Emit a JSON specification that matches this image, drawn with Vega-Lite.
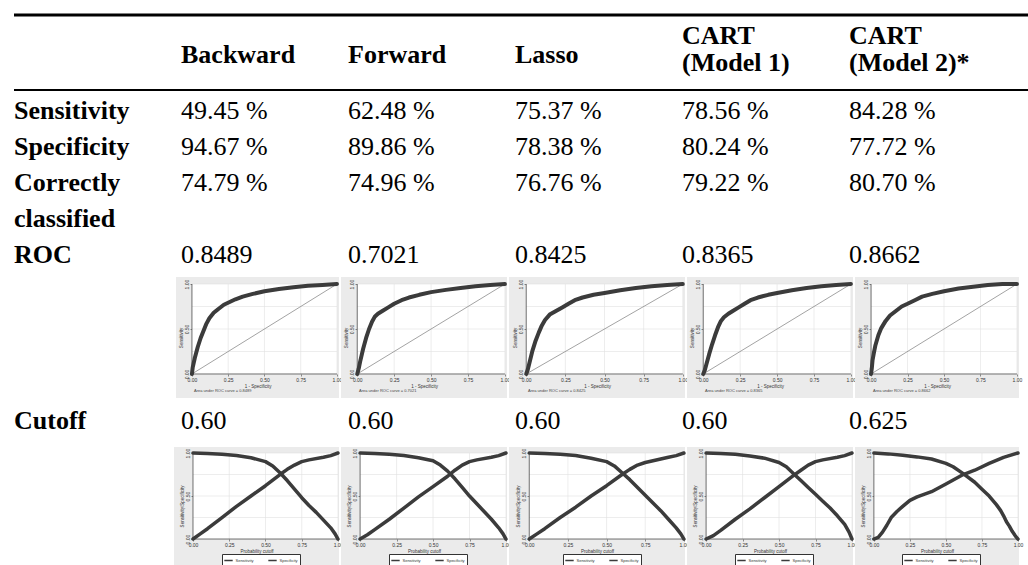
{
"$schema": "https://vega.github.io/schema/vega-lite/v6.json",
"padding": {"left": 12, "top": 0, "right": 0, "bottom": 0},
"background": "white",
"spacing": 0,
"config": {
  "view": {"stroke": null},
  "axis": {"domain": false, "grid": false, "ticks": true, "tickSize": 2, "tickColor": "#444", "tickWidth": 0.6, "labelFontSize": 5, "labelFont": "Liberation Sans", "labelColor": "#333", "labelPadding": 1, "labelFlush": false, "labelOverlap": false, "titleFontSize": 4.5, "titleFont": "Liberation Sans", "titleFontWeight": "normal", "titleColor": "#333", "titlePadding": 1},
  "axisLeft": {"labelAngle": -90}
},
"datasets": {
  "headers1": [
    {"model": "Backward", "header": "Backward"},
    {"model": "Forward", "header": "Forward"},
    {"model": "Lasso", "header": "Lasso"}
  ],
  "headers2": [
    {"model": "CART (Model 1)", "header": "CART\n(Model 1)"},
    {"model": "CART (Model 2)", "header": "CART\n(Model 2)*"}
  ],
  "measures": [
    {"measure": "Sensitivity"}, {"measure": "Specificity"}, {"measure": "Correctly classified"}, {"measure": "ROC"}
  ],
  "table": [
    {"measure": "Sensitivity", "model": "Backward", "value": "49.45 %"},
    {"measure": "Sensitivity", "model": "Forward", "value": "62.48 %"},
    {"measure": "Sensitivity", "model": "Lasso", "value": "75.37 %"},
    {"measure": "Sensitivity", "model": "CART (Model 1)", "value": "78.56 %"},
    {"measure": "Sensitivity", "model": "CART (Model 2)", "value": "84.28 %"},
    {"measure": "Specificity", "model": "Backward", "value": "94.67 %"},
    {"measure": "Specificity", "model": "Forward", "value": "89.86 %"},
    {"measure": "Specificity", "model": "Lasso", "value": "78.38 %"},
    {"measure": "Specificity", "model": "CART (Model 1)", "value": "80.24 %"},
    {"measure": "Specificity", "model": "CART (Model 2)", "value": "77.72 %"},
    {"measure": "Correctly classified", "model": "Backward", "value": "74.79 %"},
    {"measure": "Correctly classified", "model": "Forward", "value": "74.96 %"},
    {"measure": "Correctly classified", "model": "Lasso", "value": "76.76 %"},
    {"measure": "Correctly classified", "model": "CART (Model 1)", "value": "79.22 %"},
    {"measure": "Correctly classified", "model": "CART (Model 2)", "value": "80.70 %"},
    {"measure": "ROC", "model": "Backward", "value": "0.8489"},
    {"measure": "ROC", "model": "Forward", "value": "0.7021"},
    {"measure": "ROC", "model": "Lasso", "value": "0.8425"},
    {"measure": "ROC", "model": "CART (Model 1)", "value": "0.8365"},
    {"measure": "ROC", "model": "CART (Model 2)", "value": "0.8662"}
  ],
  "cutofftext": [
    {"model": "Backward", "value": "0.60"},
    {"model": "Forward", "value": "0.60"},
    {"model": "Lasso", "value": "0.60"},
    {"model": "CART (Model 1)", "value": "0.60"},
    {"model": "CART (Model 2)", "value": "0.625"}
  ],
  "grid": [{"v": 0.25}, {"v": 0.5}, {"v": 0.75}, {"v": 1}],
  "roc": [
    {"model":"Backward","fpr":0,"tpr":0},{"model":"Backward","fpr":0.005,"tpr":0.07},{"model":"Backward","fpr":0.02,"tpr":0.18},{"model":"Backward","fpr":0.04,"tpr":0.3},{"model":"Backward","fpr":0.06,"tpr":0.4},{"model":"Backward","fpr":0.08,"tpr":0.48},{"model":"Backward","fpr":0.1,"tpr":0.56},{"model":"Backward","fpr":0.12,"tpr":0.62},{"model":"Backward","fpr":0.15,"tpr":0.68},{"model":"Backward","fpr":0.18,"tpr":0.72},{"model":"Backward","fpr":0.22,"tpr":0.77},{"model":"Backward","fpr":0.26,"tpr":0.8},{"model":"Backward","fpr":0.3,"tpr":0.83},{"model":"Backward","fpr":0.35,"tpr":0.86},{"model":"Backward","fpr":0.42,"tpr":0.89},{"model":"Backward","fpr":0.5,"tpr":0.92},{"model":"Backward","fpr":0.6,"tpr":0.945},{"model":"Backward","fpr":0.7,"tpr":0.965},{"model":"Backward","fpr":0.8,"tpr":0.98},{"model":"Backward","fpr":0.9,"tpr":0.99},{"model":"Backward","fpr":1,"tpr":1},
    {"model":"Forward","fpr":0,"tpr":0},{"model":"Forward","fpr":0.01,"tpr":0.06},{"model":"Forward","fpr":0.02,"tpr":0.14},{"model":"Forward","fpr":0.04,"tpr":0.28},{"model":"Forward","fpr":0.06,"tpr":0.4},{"model":"Forward","fpr":0.08,"tpr":0.5},{"model":"Forward","fpr":0.1,"tpr":0.58},{"model":"Forward","fpr":0.12,"tpr":0.64},{"model":"Forward","fpr":0.14,"tpr":0.67},{"model":"Forward","fpr":0.17,"tpr":0.7},{"model":"Forward","fpr":0.21,"tpr":0.74},{"model":"Forward","fpr":0.25,"tpr":0.78},{"model":"Forward","fpr":0.3,"tpr":0.82},{"model":"Forward","fpr":0.35,"tpr":0.85},{"model":"Forward","fpr":0.42,"tpr":0.88},{"model":"Forward","fpr":0.5,"tpr":0.91},{"model":"Forward","fpr":0.6,"tpr":0.935},{"model":"Forward","fpr":0.7,"tpr":0.955},{"model":"Forward","fpr":0.8,"tpr":0.975},{"model":"Forward","fpr":0.9,"tpr":0.99},{"model":"Forward","fpr":1,"tpr":1},
    {"model":"Lasso","fpr":0,"tpr":0},{"model":"Lasso","fpr":0.01,"tpr":0.05},{"model":"Lasso","fpr":0.02,"tpr":0.12},{"model":"Lasso","fpr":0.04,"tpr":0.26},{"model":"Lasso","fpr":0.06,"tpr":0.37},{"model":"Lasso","fpr":0.08,"tpr":0.46},{"model":"Lasso","fpr":0.1,"tpr":0.54},{"model":"Lasso","fpr":0.12,"tpr":0.6},{"model":"Lasso","fpr":0.15,"tpr":0.66},{"model":"Lasso","fpr":0.19,"tpr":0.7},{"model":"Lasso","fpr":0.23,"tpr":0.74},{"model":"Lasso","fpr":0.27,"tpr":0.78},{"model":"Lasso","fpr":0.31,"tpr":0.82},{"model":"Lasso","fpr":0.36,"tpr":0.85},{"model":"Lasso","fpr":0.43,"tpr":0.88},{"model":"Lasso","fpr":0.5,"tpr":0.9},{"model":"Lasso","fpr":0.6,"tpr":0.93},{"model":"Lasso","fpr":0.7,"tpr":0.955},{"model":"Lasso","fpr":0.8,"tpr":0.975},{"model":"Lasso","fpr":0.9,"tpr":0.99},{"model":"Lasso","fpr":1,"tpr":1},
    {"model":"CART (Model 1)","fpr":0,"tpr":0},{"model":"CART (Model 1)","fpr":0.01,"tpr":0.04},{"model":"CART (Model 1)","fpr":0.02,"tpr":0.1},{"model":"CART (Model 1)","fpr":0.04,"tpr":0.22},{"model":"CART (Model 1)","fpr":0.06,"tpr":0.33},{"model":"CART (Model 1)","fpr":0.08,"tpr":0.43},{"model":"CART (Model 1)","fpr":0.1,"tpr":0.52},{"model":"CART (Model 1)","fpr":0.12,"tpr":0.59},{"model":"CART (Model 1)","fpr":0.14,"tpr":0.63},{"model":"CART (Model 1)","fpr":0.17,"tpr":0.67},{"model":"CART (Model 1)","fpr":0.2,"tpr":0.7},{"model":"CART (Model 1)","fpr":0.24,"tpr":0.74},{"model":"CART (Model 1)","fpr":0.28,"tpr":0.78},{"model":"CART (Model 1)","fpr":0.32,"tpr":0.82},{"model":"CART (Model 1)","fpr":0.37,"tpr":0.85},{"model":"CART (Model 1)","fpr":0.44,"tpr":0.88},{"model":"CART (Model 1)","fpr":0.5,"tpr":0.9},{"model":"CART (Model 1)","fpr":0.6,"tpr":0.93},{"model":"CART (Model 1)","fpr":0.7,"tpr":0.955},{"model":"CART (Model 1)","fpr":0.8,"tpr":0.975},{"model":"CART (Model 1)","fpr":0.9,"tpr":0.99},{"model":"CART (Model 1)","fpr":1,"tpr":1},
    {"model":"CART (Model 2)","fpr":0,"tpr":0},{"model":"CART (Model 2)","fpr":0.005,"tpr":0.06},{"model":"CART (Model 2)","fpr":0.01,"tpr":0.15},{"model":"CART (Model 2)","fpr":0.02,"tpr":0.24},{"model":"CART (Model 2)","fpr":0.03,"tpr":0.32},{"model":"CART (Model 2)","fpr":0.05,"tpr":0.43},{"model":"CART (Model 2)","fpr":0.07,"tpr":0.51},{"model":"CART (Model 2)","fpr":0.1,"tpr":0.59},{"model":"CART (Model 2)","fpr":0.13,"tpr":0.65},{"model":"CART (Model 2)","fpr":0.17,"tpr":0.7},{"model":"CART (Model 2)","fpr":0.21,"tpr":0.75},{"model":"CART (Model 2)","fpr":0.25,"tpr":0.78},{"model":"CART (Model 2)","fpr":0.3,"tpr":0.82},{"model":"CART (Model 2)","fpr":0.35,"tpr":0.86},{"model":"CART (Model 2)","fpr":0.42,"tpr":0.89},{"model":"CART (Model 2)","fpr":0.5,"tpr":0.92},{"model":"CART (Model 2)","fpr":0.6,"tpr":0.95},{"model":"CART (Model 2)","fpr":0.7,"tpr":0.97},{"model":"CART (Model 2)","fpr":0.8,"tpr":0.99},{"model":"CART (Model 2)","fpr":0.9,"tpr":1},{"model":"CART (Model 2)","fpr":1,"tpr":1}
  ],
  "cut": [
    {"model":"Backward","measure":"Sensitivity","cutoff":0,"value":1},{"model":"Backward","measure":"Sensitivity","cutoff":0.1,"value":0.995},{"model":"Backward","measure":"Sensitivity","cutoff":0.2,"value":0.985},{"model":"Backward","measure":"Sensitivity","cutoff":0.3,"value":0.97},{"model":"Backward","measure":"Sensitivity","cutoff":0.4,"value":0.945},{"model":"Backward","measure":"Sensitivity","cutoff":0.5,"value":0.9},{"model":"Backward","measure":"Sensitivity","cutoff":0.55,"value":0.85},{"model":"Backward","measure":"Sensitivity","cutoff":0.6,"value":0.77},{"model":"Backward","measure":"Sensitivity","cutoff":0.65,"value":0.68},{"model":"Backward","measure":"Sensitivity","cutoff":0.7,"value":0.58},{"model":"Backward","measure":"Sensitivity","cutoff":0.75,"value":0.48},{"model":"Backward","measure":"Sensitivity","cutoff":0.8,"value":0.39},{"model":"Backward","measure":"Sensitivity","cutoff":0.85,"value":0.31},{"model":"Backward","measure":"Sensitivity","cutoff":0.9,"value":0.22},{"model":"Backward","measure":"Sensitivity","cutoff":0.95,"value":0.13},{"model":"Backward","measure":"Sensitivity","cutoff":0.98,"value":0.06},{"model":"Backward","measure":"Sensitivity","cutoff":1,"value":0},
    {"model":"Backward","measure":"Specificity","cutoff":0,"value":0},{"model":"Backward","measure":"Specificity","cutoff":0.05,"value":0.06},{"model":"Backward","measure":"Specificity","cutoff":0.1,"value":0.12},{"model":"Backward","measure":"Specificity","cutoff":0.2,"value":0.25},{"model":"Backward","measure":"Specificity","cutoff":0.3,"value":0.38},{"model":"Backward","measure":"Specificity","cutoff":0.4,"value":0.5},{"model":"Backward","measure":"Specificity","cutoff":0.5,"value":0.62},{"model":"Backward","measure":"Specificity","cutoff":0.6,"value":0.75},{"model":"Backward","measure":"Specificity","cutoff":0.65,"value":0.81},{"model":"Backward","measure":"Specificity","cutoff":0.7,"value":0.86},{"model":"Backward","measure":"Specificity","cutoff":0.75,"value":0.9},{"model":"Backward","measure":"Specificity","cutoff":0.8,"value":0.92},{"model":"Backward","measure":"Specificity","cutoff":0.9,"value":0.95},{"model":"Backward","measure":"Specificity","cutoff":0.95,"value":0.97},{"model":"Backward","measure":"Specificity","cutoff":1,"value":1},
    {"model":"Forward","measure":"Sensitivity","cutoff":0,"value":1},{"model":"Forward","measure":"Sensitivity","cutoff":0.1,"value":0.995},{"model":"Forward","measure":"Sensitivity","cutoff":0.2,"value":0.985},{"model":"Forward","measure":"Sensitivity","cutoff":0.3,"value":0.97},{"model":"Forward","measure":"Sensitivity","cutoff":0.4,"value":0.945},{"model":"Forward","measure":"Sensitivity","cutoff":0.5,"value":0.91},{"model":"Forward","measure":"Sensitivity","cutoff":0.55,"value":0.86},{"model":"Forward","measure":"Sensitivity","cutoff":0.6,"value":0.79},{"model":"Forward","measure":"Sensitivity","cutoff":0.65,"value":0.7},{"model":"Forward","measure":"Sensitivity","cutoff":0.7,"value":0.6},{"model":"Forward","measure":"Sensitivity","cutoff":0.75,"value":0.5},{"model":"Forward","measure":"Sensitivity","cutoff":0.8,"value":0.41},{"model":"Forward","measure":"Sensitivity","cutoff":0.85,"value":0.32},{"model":"Forward","measure":"Sensitivity","cutoff":0.9,"value":0.23},{"model":"Forward","measure":"Sensitivity","cutoff":0.95,"value":0.13},{"model":"Forward","measure":"Sensitivity","cutoff":0.98,"value":0.06},{"model":"Forward","measure":"Sensitivity","cutoff":1,"value":0},
    {"model":"Forward","measure":"Specificity","cutoff":0,"value":0},{"model":"Forward","measure":"Specificity","cutoff":0.05,"value":0.05},{"model":"Forward","measure":"Specificity","cutoff":0.1,"value":0.11},{"model":"Forward","measure":"Specificity","cutoff":0.2,"value":0.23},{"model":"Forward","measure":"Specificity","cutoff":0.3,"value":0.36},{"model":"Forward","measure":"Specificity","cutoff":0.4,"value":0.49},{"model":"Forward","measure":"Specificity","cutoff":0.5,"value":0.61},{"model":"Forward","measure":"Specificity","cutoff":0.6,"value":0.73},{"model":"Forward","measure":"Specificity","cutoff":0.65,"value":0.8},{"model":"Forward","measure":"Specificity","cutoff":0.7,"value":0.86},{"model":"Forward","measure":"Specificity","cutoff":0.75,"value":0.9},{"model":"Forward","measure":"Specificity","cutoff":0.8,"value":0.92},{"model":"Forward","measure":"Specificity","cutoff":0.9,"value":0.95},{"model":"Forward","measure":"Specificity","cutoff":0.95,"value":0.97},{"model":"Forward","measure":"Specificity","cutoff":1,"value":1},
    {"model":"Lasso","measure":"Sensitivity","cutoff":0,"value":1},{"model":"Lasso","measure":"Sensitivity","cutoff":0.1,"value":0.995},{"model":"Lasso","measure":"Sensitivity","cutoff":0.2,"value":0.985},{"model":"Lasso","measure":"Sensitivity","cutoff":0.3,"value":0.97},{"model":"Lasso","measure":"Sensitivity","cutoff":0.4,"value":0.94},{"model":"Lasso","measure":"Sensitivity","cutoff":0.5,"value":0.9},{"model":"Lasso","measure":"Sensitivity","cutoff":0.55,"value":0.85},{"model":"Lasso","measure":"Sensitivity","cutoff":0.6,"value":0.77},{"model":"Lasso","measure":"Sensitivity","cutoff":0.65,"value":0.69},{"model":"Lasso","measure":"Sensitivity","cutoff":0.7,"value":0.6},{"model":"Lasso","measure":"Sensitivity","cutoff":0.75,"value":0.51},{"model":"Lasso","measure":"Sensitivity","cutoff":0.8,"value":0.42},{"model":"Lasso","measure":"Sensitivity","cutoff":0.85,"value":0.33},{"model":"Lasso","measure":"Sensitivity","cutoff":0.9,"value":0.23},{"model":"Lasso","measure":"Sensitivity","cutoff":0.95,"value":0.13},{"model":"Lasso","measure":"Sensitivity","cutoff":0.98,"value":0.06},{"model":"Lasso","measure":"Sensitivity","cutoff":1,"value":0},
    {"model":"Lasso","measure":"Specificity","cutoff":0,"value":0},{"model":"Lasso","measure":"Specificity","cutoff":0.05,"value":0.06},{"model":"Lasso","measure":"Specificity","cutoff":0.1,"value":0.12},{"model":"Lasso","measure":"Specificity","cutoff":0.2,"value":0.25},{"model":"Lasso","measure":"Specificity","cutoff":0.3,"value":0.37},{"model":"Lasso","measure":"Specificity","cutoff":0.4,"value":0.5},{"model":"Lasso","measure":"Specificity","cutoff":0.5,"value":0.62},{"model":"Lasso","measure":"Specificity","cutoff":0.6,"value":0.75},{"model":"Lasso","measure":"Specificity","cutoff":0.65,"value":0.81},{"model":"Lasso","measure":"Specificity","cutoff":0.7,"value":0.86},{"model":"Lasso","measure":"Specificity","cutoff":0.75,"value":0.89},{"model":"Lasso","measure":"Specificity","cutoff":0.8,"value":0.91},{"model":"Lasso","measure":"Specificity","cutoff":0.9,"value":0.95},{"model":"Lasso","measure":"Specificity","cutoff":0.95,"value":0.97},{"model":"Lasso","measure":"Specificity","cutoff":1,"value":1},
    {"model":"CART (Model 1)","measure":"Sensitivity","cutoff":0,"value":1},{"model":"CART (Model 1)","measure":"Sensitivity","cutoff":0.1,"value":0.995},{"model":"CART (Model 1)","measure":"Sensitivity","cutoff":0.2,"value":0.985},{"model":"CART (Model 1)","measure":"Sensitivity","cutoff":0.3,"value":0.965},{"model":"CART (Model 1)","measure":"Sensitivity","cutoff":0.4,"value":0.94},{"model":"CART (Model 1)","measure":"Sensitivity","cutoff":0.5,"value":0.89},{"model":"CART (Model 1)","measure":"Sensitivity","cutoff":0.55,"value":0.84},{"model":"CART (Model 1)","measure":"Sensitivity","cutoff":0.6,"value":0.76},{"model":"CART (Model 1)","measure":"Sensitivity","cutoff":0.65,"value":0.68},{"model":"CART (Model 1)","measure":"Sensitivity","cutoff":0.7,"value":0.6},{"model":"CART (Model 1)","measure":"Sensitivity","cutoff":0.75,"value":0.52},{"model":"CART (Model 1)","measure":"Sensitivity","cutoff":0.8,"value":0.44},{"model":"CART (Model 1)","measure":"Sensitivity","cutoff":0.85,"value":0.36},{"model":"CART (Model 1)","measure":"Sensitivity","cutoff":0.9,"value":0.27},{"model":"CART (Model 1)","measure":"Sensitivity","cutoff":0.95,"value":0.17},{"model":"CART (Model 1)","measure":"Sensitivity","cutoff":0.98,"value":0.08},{"model":"CART (Model 1)","measure":"Sensitivity","cutoff":1,"value":0},
    {"model":"CART (Model 1)","measure":"Specificity","cutoff":0,"value":0},{"model":"CART (Model 1)","measure":"Specificity","cutoff":0.05,"value":0.04},{"model":"CART (Model 1)","measure":"Specificity","cutoff":0.1,"value":0.1},{"model":"CART (Model 1)","measure":"Specificity","cutoff":0.2,"value":0.23},{"model":"CART (Model 1)","measure":"Specificity","cutoff":0.3,"value":0.35},{"model":"CART (Model 1)","measure":"Specificity","cutoff":0.4,"value":0.48},{"model":"CART (Model 1)","measure":"Specificity","cutoff":0.5,"value":0.61},{"model":"CART (Model 1)","measure":"Specificity","cutoff":0.6,"value":0.74},{"model":"CART (Model 1)","measure":"Specificity","cutoff":0.65,"value":0.8},{"model":"CART (Model 1)","measure":"Specificity","cutoff":0.7,"value":0.86},{"model":"CART (Model 1)","measure":"Specificity","cutoff":0.75,"value":0.9},{"model":"CART (Model 1)","measure":"Specificity","cutoff":0.8,"value":0.92},{"model":"CART (Model 1)","measure":"Specificity","cutoff":0.9,"value":0.95},{"model":"CART (Model 1)","measure":"Specificity","cutoff":0.95,"value":0.97},{"model":"CART (Model 1)","measure":"Specificity","cutoff":1,"value":1},
    {"model":"CART (Model 2)","measure":"Sensitivity","cutoff":0,"value":1},{"model":"CART (Model 2)","measure":"Sensitivity","cutoff":0.1,"value":0.99},{"model":"CART (Model 2)","measure":"Sensitivity","cutoff":0.2,"value":0.975},{"model":"CART (Model 2)","measure":"Sensitivity","cutoff":0.3,"value":0.955},{"model":"CART (Model 2)","measure":"Sensitivity","cutoff":0.4,"value":0.93},{"model":"CART (Model 2)","measure":"Sensitivity","cutoff":0.5,"value":0.88},{"model":"CART (Model 2)","measure":"Sensitivity","cutoff":0.55,"value":0.84},{"model":"CART (Model 2)","measure":"Sensitivity","cutoff":0.62,"value":0.76},{"model":"CART (Model 2)","measure":"Sensitivity","cutoff":0.7,"value":0.66},{"model":"CART (Model 2)","measure":"Sensitivity","cutoff":0.75,"value":0.58},{"model":"CART (Model 2)","measure":"Sensitivity","cutoff":0.8,"value":0.5},{"model":"CART (Model 2)","measure":"Sensitivity","cutoff":0.85,"value":0.4},{"model":"CART (Model 2)","measure":"Sensitivity","cutoff":0.88,"value":0.33},{"model":"CART (Model 2)","measure":"Sensitivity","cutoff":0.9,"value":0.27},{"model":"CART (Model 2)","measure":"Sensitivity","cutoff":0.92,"value":0.2},{"model":"CART (Model 2)","measure":"Sensitivity","cutoff":0.94,"value":0.15},{"model":"CART (Model 2)","measure":"Sensitivity","cutoff":0.96,"value":0.09},{"model":"CART (Model 2)","measure":"Sensitivity","cutoff":0.98,"value":0.04},{"model":"CART (Model 2)","measure":"Sensitivity","cutoff":1,"value":0},
    {"model":"CART (Model 2)","measure":"Specificity","cutoff":0,"value":0},{"model":"CART (Model 2)","measure":"Specificity","cutoff":0.03,"value":0.02},{"model":"CART (Model 2)","measure":"Specificity","cutoff":0.06,"value":0.08},{"model":"CART (Model 2)","measure":"Specificity","cutoff":0.09,"value":0.16},{"model":"CART (Model 2)","measure":"Specificity","cutoff":0.12,"value":0.25},{"model":"CART (Model 2)","measure":"Specificity","cutoff":0.16,"value":0.32},{"model":"CART (Model 2)","measure":"Specificity","cutoff":0.2,"value":0.38},{"model":"CART (Model 2)","measure":"Specificity","cutoff":0.25,"value":0.45},{"model":"CART (Model 2)","measure":"Specificity","cutoff":0.3,"value":0.49},{"model":"CART (Model 2)","measure":"Specificity","cutoff":0.4,"value":0.55},{"model":"CART (Model 2)","measure":"Specificity","cutoff":0.5,"value":0.64},{"model":"CART (Model 2)","measure":"Specificity","cutoff":0.62,"value":0.75},{"model":"CART (Model 2)","measure":"Specificity","cutoff":0.7,"value":0.8},{"model":"CART (Model 2)","measure":"Specificity","cutoff":0.8,"value":0.88},{"model":"CART (Model 2)","measure":"Specificity","cutoff":0.9,"value":0.95},{"model":"CART (Model 2)","measure":"Specificity","cutoff":1,"value":1}
  ]
},
"vconcat": [
  {
    "width": 1016, "height": 277,
    "layer": [
      {"data": {"values": [{}]}, "mark": {"type": "rule", "color": "black", "strokeWidth": 3, "yOffset": -59},
       "encoding": {"y": {"datum": "Header", "type": "nominal", "scale": {"type": "point", "padding": 0, "domain": ["Header","Sensitivity","Specificity","Correctly classified","classified","ROC"], "range": [74, 254]}, "axis": null}}},
      {"data": {"values": [{}]}, "mark": {"type": "rule", "color": "black", "strokeWidth": 2, "yOffset": 16},
       "encoding": {"y": {"datum": "Header", "type": "nominal", "scale": {"type": "point", "padding": 0, "domain": ["Header","Sensitivity","Specificity","Correctly classified","classified","ROC"], "range": [74, 254]}, "axis": null}}},
      {"data": {"name": "headers1"}, "mark": {"type": "text", "align": "left", "baseline": "middle", "font": "Liberation Serif", "fontSize": 26, "fontWeight": "bold", "dy": -19, "color": "black"},
       "encoding": {
         "x": {"field": "model", "type": "nominal", "scale": {"type": "point", "padding": 0, "domain": ["Measure","Backward","Forward","Lasso","CART (Model 1)","CART (Model 2)"], "range": [0, 835]}, "axis": null},
         "y": {"datum": "Header", "type": "nominal", "scale": {"type": "point", "padding": 0, "domain": ["Header","Sensitivity","Specificity","Correctly classified","classified","ROC"], "range": [74, 254]}, "axis": null},
         "text": {"field": "header"}}},
      {"data": {"name": "headers2"}, "mark": {"type": "text", "align": "left", "baseline": "middle", "font": "Liberation Serif", "fontSize": 26, "fontWeight": "bold", "lineBreak": "\n", "lineHeight": 27, "dy": -38, "color": "black"},
       "encoding": {
         "x": {"field": "model", "type": "nominal", "scale": {"type": "point", "padding": 0, "domain": ["Measure","Backward","Forward","Lasso","CART (Model 1)","CART (Model 2)"], "range": [0, 835]}, "axis": null},
         "y": {"datum": "Header", "type": "nominal", "scale": {"type": "point", "padding": 0, "domain": ["Header","Sensitivity","Specificity","Correctly classified","classified","ROC"], "range": [74, 254]}, "axis": null},
         "text": {"field": "header"}}},
      {"data": {"name": "measures"}, "mark": {"type": "text", "align": "left", "baseline": "alphabetic", "font": "Liberation Serif", "fontSize": 26, "fontWeight": "bold", "lineBreak": " ", "lineHeight": 36, "dy": 9, "color": "black"},
       "encoding": {
         "x": {"datum": "Measure", "type": "nominal", "scale": {"type": "point", "padding": 0, "domain": ["Measure","Backward","Forward","Lasso","CART (Model 1)","CART (Model 2)"], "range": [0, 835]}, "axis": null},
         "y": {"field": "measure", "type": "nominal", "scale": {"type": "point", "padding": 0, "domain": ["Header","Sensitivity","Specificity","Correctly classified","classified","ROC"], "range": [74, 254]}, "axis": null},
         "text": {"field": "measure"}}},
      {"data": {"name": "table"}, "mark": {"type": "text", "align": "left", "baseline": "alphabetic", "font": "Liberation Serif", "fontSize": 26, "dy": 9, "color": "black"},
       "encoding": {
         "x": {"field": "model", "type": "nominal", "scale": {"type": "point", "padding": 0, "domain": ["Measure","Backward","Forward","Lasso","CART (Model 1)","CART (Model 2)"], "range": [0, 835]}, "axis": null},
         "y": {"field": "measure", "type": "nominal", "scale": {"type": "point", "padding": 0, "domain": ["Header","Sensitivity","Specificity","Correctly classified","classified","ROC"], "range": [74, 254]}, "axis": null},
         "text": {"field": "value"}}}
    ]
  },
  {
    "spacing": 2, "bounds": "flush",
    "hconcat": [
      {"width": 160, "height": 121, "data": {"values": []}, "mark": "point"},
      {"width": 163, "height": 121, "view": {"fill": "#ebebeb", "stroke": null},
       "title": {"text": "Area under ROC curve = 0.8489", "orient": "bottom", "anchor": "start", "offset": -9, "dx": 18, "fontSize": 4, "fontWeight": "normal", "font": "Liberation Sans", "color": "#444"},
       "layer": [
        {"data": {"values": [{}]}, "mark": {"type": "rect", "fill": "white"}, "encoding": {"x": {"datum": 0, "type": "quantitative", "scale": {"domain": [-0.11, 1.014], "nice": false, "zero": false}}, "x2": {"datum": 1}, "y": {"datum": 0, "type": "quantitative", "scale": {"domain": [-0.267, 1.078], "nice": false, "zero": false}}, "y2": {"datum": 1}}},
        {"data": {"name": "grid"}, "mark": {"type": "rule", "color": "#e0e0e0", "strokeWidth": 0.6}, "encoding": {"x": {"field": "v", "type": "quantitative", "scale": {"domain": [-0.11, 1.014], "nice": false, "zero": false}}, "y": {"datum": 0, "type": "quantitative", "scale": {"domain": [-0.267, 1.078], "nice": false, "zero": false}}, "y2": {"datum": 1}}},
        {"data": {"name": "grid"}, "mark": {"type": "rule", "color": "#e0e0e0", "strokeWidth": 0.6}, "encoding": {"y": {"field": "v", "type": "quantitative", "scale": {"domain": [-0.267, 1.078], "nice": false, "zero": false}}, "x": {"datum": 0, "type": "quantitative", "scale": {"domain": [-0.11, 1.014], "nice": false, "zero": false}}, "x2": {"datum": 1}}},
        {"data": {"values": [{}]}, "mark": {"type": "rule", "color": "#8c8c8c", "strokeWidth": 0.8}, "encoding": {"x": {"datum": 0, "type": "quantitative", "scale": {"domain": [-0.11, 1.014], "nice": false, "zero": false}}, "y": {"datum": 0, "type": "quantitative", "scale": {"domain": [-0.267, 1.078], "nice": false, "zero": false}}, "x2": {"datum": 1}, "y2": {"datum": 1}}},
        {"data": {"values": [{}]}, "mark": {"type": "rule", "color": "#333", "strokeWidth": 0.7}, "encoding": {"x": {"datum": 0, "type": "quantitative", "scale": {"domain": [-0.11, 1.014], "nice": false, "zero": false}}, "y": {"datum": 0, "type": "quantitative", "scale": {"domain": [-0.267, 1.078], "nice": false, "zero": false}}, "y2": {"datum": 1}}},
        {"data": {"values": [{}]}, "mark": {"type": "rule", "color": "#333", "strokeWidth": 0.7}, "encoding": {"y": {"datum": 0, "type": "quantitative", "scale": {"domain": [-0.267, 1.078], "nice": false, "zero": false}}, "x": {"datum": 0, "type": "quantitative", "scale": {"domain": [-0.11, 1.014], "nice": false, "zero": false}}, "x2": {"datum": 1}}},
        {"data": {"name": "roc"}, "transform": [{"filter": "datum.model === 'Backward'"}], "mark": {"type": "line", "color": "#3b3b3b", "strokeWidth": 4, "strokeJoin": "round", "strokeCap": "round"},
         "encoding": {"x": {"field": "fpr", "type": "quantitative", "scale": {"domain": [-0.11, 1.014], "nice": false, "zero": false}, "axis": {"values": [0, 0.25, 0.5, 0.75, 1], "format": ".2f", "offset": -24, "labelOverlap": false, "title": "1 - Specificity"}},
                      "y": {"field": "tpr", "type": "quantitative", "scale": {"domain": [-0.267, 1.078], "nice": false, "zero": false}, "axis": {"values": [0, 0.25, 0.5, 0.75, 1], "format": ".2f", "offset": -16, "labelOverlap": false, "title": "Sensitivity"}}}}
       ]},
      {"width": 166, "height": 121, "view": {"fill": "#ebebeb", "stroke": null},
       "title": {"text": "Area under ROC curve = 0.7021", "orient": "bottom", "anchor": "start", "offset": -9, "dx": 18, "fontSize": 4, "fontWeight": "normal", "font": "Liberation Sans", "color": "#444"},
       "layer": [
        {"data": {"values": [{}]}, "mark": {"type": "rect", "fill": "white"}, "encoding": {"x": {"datum": 0, "type": "quantitative", "scale": {"domain": [-0.11, 1.014], "nice": false, "zero": false}}, "x2": {"datum": 1}, "y": {"datum": 0, "type": "quantitative", "scale": {"domain": [-0.267, 1.078], "nice": false, "zero": false}}, "y2": {"datum": 1}}},
        {"data": {"name": "grid"}, "mark": {"type": "rule", "color": "#e0e0e0", "strokeWidth": 0.6}, "encoding": {"x": {"field": "v", "type": "quantitative", "scale": {"domain": [-0.11, 1.014], "nice": false, "zero": false}}, "y": {"datum": 0, "type": "quantitative", "scale": {"domain": [-0.267, 1.078], "nice": false, "zero": false}}, "y2": {"datum": 1}}},
        {"data": {"name": "grid"}, "mark": {"type": "rule", "color": "#e0e0e0", "strokeWidth": 0.6}, "encoding": {"y": {"field": "v", "type": "quantitative", "scale": {"domain": [-0.267, 1.078], "nice": false, "zero": false}}, "x": {"datum": 0, "type": "quantitative", "scale": {"domain": [-0.11, 1.014], "nice": false, "zero": false}}, "x2": {"datum": 1}}},
        {"data": {"values": [{}]}, "mark": {"type": "rule", "color": "#8c8c8c", "strokeWidth": 0.8}, "encoding": {"x": {"datum": 0, "type": "quantitative", "scale": {"domain": [-0.11, 1.014], "nice": false, "zero": false}}, "y": {"datum": 0, "type": "quantitative", "scale": {"domain": [-0.267, 1.078], "nice": false, "zero": false}}, "x2": {"datum": 1}, "y2": {"datum": 1}}},
        {"data": {"values": [{}]}, "mark": {"type": "rule", "color": "#333", "strokeWidth": 0.7}, "encoding": {"x": {"datum": 0, "type": "quantitative", "scale": {"domain": [-0.11, 1.014], "nice": false, "zero": false}}, "y": {"datum": 0, "type": "quantitative", "scale": {"domain": [-0.267, 1.078], "nice": false, "zero": false}}, "y2": {"datum": 1}}},
        {"data": {"values": [{}]}, "mark": {"type": "rule", "color": "#333", "strokeWidth": 0.7}, "encoding": {"y": {"datum": 0, "type": "quantitative", "scale": {"domain": [-0.267, 1.078], "nice": false, "zero": false}}, "x": {"datum": 0, "type": "quantitative", "scale": {"domain": [-0.11, 1.014], "nice": false, "zero": false}}, "x2": {"datum": 1}}},
        {"data": {"name": "roc"}, "transform": [{"filter": "datum.model === 'Forward'"}], "mark": {"type": "line", "color": "#3b3b3b", "strokeWidth": 4, "strokeJoin": "round", "strokeCap": "round"},
         "encoding": {"x": {"field": "fpr", "type": "quantitative", "scale": {"domain": [-0.11, 1.014], "nice": false, "zero": false}, "axis": {"values": [0, 0.25, 0.5, 0.75, 1], "format": ".2f", "offset": -24, "labelOverlap": false, "title": "1 - Specificity"}},
                      "y": {"field": "tpr", "type": "quantitative", "scale": {"domain": [-0.267, 1.078], "nice": false, "zero": false}, "axis": {"values": [0, 0.25, 0.5, 0.75, 1], "format": ".2f", "offset": -16, "labelOverlap": false, "title": "Sensitivity"}}}}
       ]},
      {"width": 176, "height": 121, "view": {"fill": "#ebebeb", "stroke": null},
       "title": {"text": "Area under ROC curve = 0.8425", "orient": "bottom", "anchor": "start", "offset": -9, "dx": 19, "fontSize": 4, "fontWeight": "normal", "font": "Liberation Sans", "color": "#444"},
       "layer": [
        {"data": {"values": [{}]}, "mark": {"type": "rect", "fill": "white"}, "encoding": {"x": {"datum": 0, "type": "quantitative", "scale": {"domain": [-0.11, 1.014], "nice": false, "zero": false}}, "x2": {"datum": 1}, "y": {"datum": 0, "type": "quantitative", "scale": {"domain": [-0.267, 1.078], "nice": false, "zero": false}}, "y2": {"datum": 1}}},
        {"data": {"name": "grid"}, "mark": {"type": "rule", "color": "#e0e0e0", "strokeWidth": 0.6}, "encoding": {"x": {"field": "v", "type": "quantitative", "scale": {"domain": [-0.11, 1.014], "nice": false, "zero": false}}, "y": {"datum": 0, "type": "quantitative", "scale": {"domain": [-0.267, 1.078], "nice": false, "zero": false}}, "y2": {"datum": 1}}},
        {"data": {"name": "grid"}, "mark": {"type": "rule", "color": "#e0e0e0", "strokeWidth": 0.6}, "encoding": {"y": {"field": "v", "type": "quantitative", "scale": {"domain": [-0.267, 1.078], "nice": false, "zero": false}}, "x": {"datum": 0, "type": "quantitative", "scale": {"domain": [-0.11, 1.014], "nice": false, "zero": false}}, "x2": {"datum": 1}}},
        {"data": {"values": [{}]}, "mark": {"type": "rule", "color": "#8c8c8c", "strokeWidth": 0.8}, "encoding": {"x": {"datum": 0, "type": "quantitative", "scale": {"domain": [-0.11, 1.014], "nice": false, "zero": false}}, "y": {"datum": 0, "type": "quantitative", "scale": {"domain": [-0.267, 1.078], "nice": false, "zero": false}}, "x2": {"datum": 1}, "y2": {"datum": 1}}},
        {"data": {"values": [{}]}, "mark": {"type": "rule", "color": "#333", "strokeWidth": 0.7}, "encoding": {"x": {"datum": 0, "type": "quantitative", "scale": {"domain": [-0.11, 1.014], "nice": false, "zero": false}}, "y": {"datum": 0, "type": "quantitative", "scale": {"domain": [-0.267, 1.078], "nice": false, "zero": false}}, "y2": {"datum": 1}}},
        {"data": {"values": [{}]}, "mark": {"type": "rule", "color": "#333", "strokeWidth": 0.7}, "encoding": {"y": {"datum": 0, "type": "quantitative", "scale": {"domain": [-0.267, 1.078], "nice": false, "zero": false}}, "x": {"datum": 0, "type": "quantitative", "scale": {"domain": [-0.11, 1.014], "nice": false, "zero": false}}, "x2": {"datum": 1}}},
        {"data": {"name": "roc"}, "transform": [{"filter": "datum.model === 'Lasso'"}], "mark": {"type": "line", "color": "#3b3b3b", "strokeWidth": 4, "strokeJoin": "round", "strokeCap": "round"},
         "encoding": {"x": {"field": "fpr", "type": "quantitative", "scale": {"domain": [-0.11, 1.014], "nice": false, "zero": false}, "axis": {"values": [0, 0.25, 0.5, 0.75, 1], "format": ".2f", "offset": -24, "labelOverlap": false, "title": "1 - Specificity"}},
                      "y": {"field": "tpr", "type": "quantitative", "scale": {"domain": [-0.267, 1.078], "nice": false, "zero": false}, "axis": {"values": [0, 0.25, 0.5, 0.75, 1], "format": ".2f", "offset": -17, "labelOverlap": false, "title": "Sensitivity"}}}}
       ]},
      {"width": 166, "height": 121, "view": {"fill": "#ebebeb", "stroke": null},
       "title": {"text": "Area under ROC curve = 0.8365", "orient": "bottom", "anchor": "start", "offset": -9, "dx": 18, "fontSize": 4, "fontWeight": "normal", "font": "Liberation Sans", "color": "#444"},
       "layer": [
        {"data": {"values": [{}]}, "mark": {"type": "rect", "fill": "white"}, "encoding": {"x": {"datum": 0, "type": "quantitative", "scale": {"domain": [-0.11, 1.014], "nice": false, "zero": false}}, "x2": {"datum": 1}, "y": {"datum": 0, "type": "quantitative", "scale": {"domain": [-0.267, 1.078], "nice": false, "zero": false}}, "y2": {"datum": 1}}},
        {"data": {"name": "grid"}, "mark": {"type": "rule", "color": "#e0e0e0", "strokeWidth": 0.6}, "encoding": {"x": {"field": "v", "type": "quantitative", "scale": {"domain": [-0.11, 1.014], "nice": false, "zero": false}}, "y": {"datum": 0, "type": "quantitative", "scale": {"domain": [-0.267, 1.078], "nice": false, "zero": false}}, "y2": {"datum": 1}}},
        {"data": {"name": "grid"}, "mark": {"type": "rule", "color": "#e0e0e0", "strokeWidth": 0.6}, "encoding": {"y": {"field": "v", "type": "quantitative", "scale": {"domain": [-0.267, 1.078], "nice": false, "zero": false}}, "x": {"datum": 0, "type": "quantitative", "scale": {"domain": [-0.11, 1.014], "nice": false, "zero": false}}, "x2": {"datum": 1}}},
        {"data": {"values": [{}]}, "mark": {"type": "rule", "color": "#8c8c8c", "strokeWidth": 0.8}, "encoding": {"x": {"datum": 0, "type": "quantitative", "scale": {"domain": [-0.11, 1.014], "nice": false, "zero": false}}, "y": {"datum": 0, "type": "quantitative", "scale": {"domain": [-0.267, 1.078], "nice": false, "zero": false}}, "x2": {"datum": 1}, "y2": {"datum": 1}}},
        {"data": {"values": [{}]}, "mark": {"type": "rule", "color": "#333", "strokeWidth": 0.7}, "encoding": {"x": {"datum": 0, "type": "quantitative", "scale": {"domain": [-0.11, 1.014], "nice": false, "zero": false}}, "y": {"datum": 0, "type": "quantitative", "scale": {"domain": [-0.267, 1.078], "nice": false, "zero": false}}, "y2": {"datum": 1}}},
        {"data": {"values": [{}]}, "mark": {"type": "rule", "color": "#333", "strokeWidth": 0.7}, "encoding": {"y": {"datum": 0, "type": "quantitative", "scale": {"domain": [-0.267, 1.078], "nice": false, "zero": false}}, "x": {"datum": 0, "type": "quantitative", "scale": {"domain": [-0.11, 1.014], "nice": false, "zero": false}}, "x2": {"datum": 1}}},
        {"data": {"name": "roc"}, "transform": [{"filter": "datum.model === 'CART (Model 1)'"}], "mark": {"type": "line", "color": "#3b3b3b", "strokeWidth": 4, "strokeJoin": "round", "strokeCap": "round"},
         "encoding": {"x": {"field": "fpr", "type": "quantitative", "scale": {"domain": [-0.11, 1.014], "nice": false, "zero": false}, "axis": {"values": [0, 0.25, 0.5, 0.75, 1], "format": ".2f", "offset": -24, "labelOverlap": false, "title": "1 - Specificity"}},
                      "y": {"field": "tpr", "type": "quantitative", "scale": {"domain": [-0.267, 1.078], "nice": false, "zero": false}, "axis": {"values": [0, 0.25, 0.5, 0.75, 1], "format": ".2f", "offset": -16, "labelOverlap": false, "title": "Sensitivity"}}}}
       ]},
      {"width": 164, "height": 121, "view": {"fill": "#ebebeb", "stroke": null},
       "title": {"text": "Area under ROC curve = 0.8662", "orient": "bottom", "anchor": "start", "offset": -9, "dx": 18, "fontSize": 4, "fontWeight": "normal", "font": "Liberation Sans", "color": "#444"},
       "layer": [
        {"data": {"values": [{}]}, "mark": {"type": "rect", "fill": "white"}, "encoding": {"x": {"datum": 0, "type": "quantitative", "scale": {"domain": [-0.11, 1.014], "nice": false, "zero": false}}, "x2": {"datum": 1}, "y": {"datum": 0, "type": "quantitative", "scale": {"domain": [-0.267, 1.078], "nice": false, "zero": false}}, "y2": {"datum": 1}}},
        {"data": {"name": "grid"}, "mark": {"type": "rule", "color": "#e0e0e0", "strokeWidth": 0.6}, "encoding": {"x": {"field": "v", "type": "quantitative", "scale": {"domain": [-0.11, 1.014], "nice": false, "zero": false}}, "y": {"datum": 0, "type": "quantitative", "scale": {"domain": [-0.267, 1.078], "nice": false, "zero": false}}, "y2": {"datum": 1}}},
        {"data": {"name": "grid"}, "mark": {"type": "rule", "color": "#e0e0e0", "strokeWidth": 0.6}, "encoding": {"y": {"field": "v", "type": "quantitative", "scale": {"domain": [-0.267, 1.078], "nice": false, "zero": false}}, "x": {"datum": 0, "type": "quantitative", "scale": {"domain": [-0.11, 1.014], "nice": false, "zero": false}}, "x2": {"datum": 1}}},
        {"data": {"values": [{}]}, "mark": {"type": "rule", "color": "#8c8c8c", "strokeWidth": 0.8}, "encoding": {"x": {"datum": 0, "type": "quantitative", "scale": {"domain": [-0.11, 1.014], "nice": false, "zero": false}}, "y": {"datum": 0, "type": "quantitative", "scale": {"domain": [-0.267, 1.078], "nice": false, "zero": false}}, "x2": {"datum": 1}, "y2": {"datum": 1}}},
        {"data": {"values": [{}]}, "mark": {"type": "rule", "color": "#333", "strokeWidth": 0.7}, "encoding": {"x": {"datum": 0, "type": "quantitative", "scale": {"domain": [-0.11, 1.014], "nice": false, "zero": false}}, "y": {"datum": 0, "type": "quantitative", "scale": {"domain": [-0.267, 1.078], "nice": false, "zero": false}}, "y2": {"datum": 1}}},
        {"data": {"values": [{}]}, "mark": {"type": "rule", "color": "#333", "strokeWidth": 0.7}, "encoding": {"y": {"datum": 0, "type": "quantitative", "scale": {"domain": [-0.267, 1.078], "nice": false, "zero": false}}, "x": {"datum": 0, "type": "quantitative", "scale": {"domain": [-0.11, 1.014], "nice": false, "zero": false}}, "x2": {"datum": 1}}},
        {"data": {"name": "roc"}, "transform": [{"filter": "datum.model === 'CART (Model 2)'"}], "mark": {"type": "line", "color": "#3b3b3b", "strokeWidth": 4, "strokeJoin": "round", "strokeCap": "round"},
         "encoding": {"x": {"field": "fpr", "type": "quantitative", "scale": {"domain": [-0.11, 1.014], "nice": false, "zero": false}, "axis": {"values": [0, 0.25, 0.5, 0.75, 1], "format": ".2f", "offset": -24, "labelOverlap": false, "title": "1 - Specificity"}},
                      "y": {"field": "tpr", "type": "quantitative", "scale": {"domain": [-0.267, 1.078], "nice": false, "zero": false}, "axis": {"values": [0, 0.25, 0.5, 0.75, 1], "format": ".2f", "offset": -16, "labelOverlap": false, "title": "Sensitivity"}}}}
       ]}
    ]
  },
  {
    "width": 1016, "height": 49,
    "layer": [
      {"data": {"values": [{"measure": "Cutoff"}]}, "mark": {"type": "text", "align": "left", "baseline": "alphabetic", "font": "Liberation Serif", "fontSize": 26, "fontWeight": "bold", "dy": 9, "color": "black"},
       "encoding": {
         "x": {"datum": "Measure", "type": "nominal", "scale": {"type": "point", "padding": 0, "domain": ["Measure","Backward","Forward","Lasso","CART (Model 1)","CART (Model 2)"], "range": [0, 835]}, "axis": null},
         "y": {"field": "measure", "type": "nominal", "scale": {"type": "point", "domain": ["Cutoff"], "range": [0, 44]}, "axis": null},
         "text": {"field": "measure"}}},
      {"data": {"name": "cutofftext"}, "mark": {"type": "text", "align": "left", "baseline": "alphabetic", "font": "Liberation Serif", "fontSize": 26, "dy": 9, "color": "black"},
       "encoding": {
         "x": {"field": "model", "type": "nominal", "scale": {"type": "point", "padding": 0, "domain": ["Measure","Backward","Forward","Lasso","CART (Model 1)","CART (Model 2)"], "range": [0, 835]}, "axis": null},
         "y": {"datum": "Cutoff", "type": "nominal", "scale": {"type": "point", "domain": ["Cutoff"], "range": [0, 44]}, "axis": null},
         "text": {"field": "value"}}}
    ]
  },
  {
    "spacing": 2, "bounds": "flush",
    "resolve": {"scale": {"color": "independent"}, "legend": {"color": "independent"}},
    "hconcat": [
      {"width": 158, "height": 118, "data": {"values": []}, "mark": "point"},
      {"width": 165, "height": 118, "view": {"fill": "#ebebeb", "stroke": null},
       "layer": [
        {"data": {"values": [{}]}, "mark": {"type": "rect", "fill": "white"}, "encoding": {"x": {"datum": 0, "type": "quantitative", "scale": {"domain": [-0.131, 1.007], "nice": false, "zero": false}}, "x2": {"datum": 1}, "y": {"datum": 0, "type": "quantitative", "scale": {"domain": [-0.302, 1.07], "nice": false, "zero": false}}, "y2": {"datum": 1}}},
        {"data": {"name": "grid"}, "mark": {"type": "rule", "color": "#e0e0e0", "strokeWidth": 0.6}, "encoding": {"x": {"field": "v", "type": "quantitative", "scale": {"domain": [-0.131, 1.007], "nice": false, "zero": false}}, "y": {"datum": 0, "type": "quantitative", "scale": {"domain": [-0.302, 1.07], "nice": false, "zero": false}}, "y2": {"datum": 1}}},
        {"data": {"name": "grid"}, "mark": {"type": "rule", "color": "#e0e0e0", "strokeWidth": 0.6}, "encoding": {"y": {"field": "v", "type": "quantitative", "scale": {"domain": [-0.302, 1.07], "nice": false, "zero": false}}, "x": {"datum": 0, "type": "quantitative", "scale": {"domain": [-0.131, 1.007], "nice": false, "zero": false}}, "x2": {"datum": 1}}},
        {"data": {"values": [{}]}, "mark": {"type": "rule", "color": "#333", "strokeWidth": 0.7}, "encoding": {"x": {"datum": 0, "type": "quantitative", "scale": {"domain": [-0.131, 1.007], "nice": false, "zero": false}}, "y": {"datum": 0, "type": "quantitative", "scale": {"domain": [-0.302, 1.07], "nice": false, "zero": false}}, "y2": {"datum": 1}}},
        {"data": {"values": [{}]}, "mark": {"type": "rule", "color": "#333", "strokeWidth": 0.7}, "encoding": {"y": {"datum": 0, "type": "quantitative", "scale": {"domain": [-0.302, 1.07], "nice": false, "zero": false}}, "x": {"datum": 0, "type": "quantitative", "scale": {"domain": [-0.131, 1.007], "nice": false, "zero": false}}, "x2": {"datum": 1}}},
        {"data": {"name": "cut"}, "transform": [{"filter": "datum.model === 'Backward'"}], "mark": {"type": "line", "strokeWidth": 3.5, "strokeJoin": "round", "strokeCap": "round"},
         "encoding": {"x": {"field": "cutoff", "type": "quantitative", "scale": {"domain": [-0.131, 1.007], "nice": false, "zero": false}, "axis": {"values": [0, 0.25, 0.5, 0.75, 1], "format": ".2f", "offset": -26, "labelOverlap": false, "title": "Probability cutoff"}},
                      "y": {"field": "value", "type": "quantitative", "scale": {"domain": [-0.302, 1.07], "nice": false, "zero": false}, "axis": {"values": [0, 0.25, 0.5, 0.75, 1], "format": ".2f", "offset": -19, "labelOverlap": false, "title": "Sensitivity/Specificity"}},
                      "color": {"field": "measure", "type": "nominal", "scale": {"domain": ["Sensitivity", "Specificity"], "range": ["#3b3b3b", "#3b3b3b"]}, "legend": {"orient": "none", "legendX": 48, "legendY": 107, "direction": "horizontal", "title": null, "labelFontSize": 4, "labelFont": "Liberation Sans", "labelColor": "#333", "symbolType": "stroke", "symbolStrokeWidth": 1.5, "symbolSize": 70, "fillColor": "white", "strokeColor": "#333", "padding": 1.5, "columnPadding": 10, "labelOffset": 2}}}}
       ]},
      {"width": 166, "height": 118, "view": {"fill": "#ebebeb", "stroke": null},
       "layer": [
        {"data": {"values": [{}]}, "mark": {"type": "rect", "fill": "white"}, "encoding": {"x": {"datum": 0, "type": "quantitative", "scale": {"domain": [-0.131, 1.007], "nice": false, "zero": false}}, "x2": {"datum": 1}, "y": {"datum": 0, "type": "quantitative", "scale": {"domain": [-0.302, 1.07], "nice": false, "zero": false}}, "y2": {"datum": 1}}},
        {"data": {"name": "grid"}, "mark": {"type": "rule", "color": "#e0e0e0", "strokeWidth": 0.6}, "encoding": {"x": {"field": "v", "type": "quantitative", "scale": {"domain": [-0.131, 1.007], "nice": false, "zero": false}}, "y": {"datum": 0, "type": "quantitative", "scale": {"domain": [-0.302, 1.07], "nice": false, "zero": false}}, "y2": {"datum": 1}}},
        {"data": {"name": "grid"}, "mark": {"type": "rule", "color": "#e0e0e0", "strokeWidth": 0.6}, "encoding": {"y": {"field": "v", "type": "quantitative", "scale": {"domain": [-0.302, 1.07], "nice": false, "zero": false}}, "x": {"datum": 0, "type": "quantitative", "scale": {"domain": [-0.131, 1.007], "nice": false, "zero": false}}, "x2": {"datum": 1}}},
        {"data": {"values": [{}]}, "mark": {"type": "rule", "color": "#333", "strokeWidth": 0.7}, "encoding": {"x": {"datum": 0, "type": "quantitative", "scale": {"domain": [-0.131, 1.007], "nice": false, "zero": false}}, "y": {"datum": 0, "type": "quantitative", "scale": {"domain": [-0.302, 1.07], "nice": false, "zero": false}}, "y2": {"datum": 1}}},
        {"data": {"values": [{}]}, "mark": {"type": "rule", "color": "#333", "strokeWidth": 0.7}, "encoding": {"y": {"datum": 0, "type": "quantitative", "scale": {"domain": [-0.302, 1.07], "nice": false, "zero": false}}, "x": {"datum": 0, "type": "quantitative", "scale": {"domain": [-0.131, 1.007], "nice": false, "zero": false}}, "x2": {"datum": 1}}},
        {"data": {"name": "cut"}, "transform": [{"filter": "datum.model === 'Forward'"}], "mark": {"type": "line", "strokeWidth": 3.5, "strokeJoin": "round", "strokeCap": "round"},
         "encoding": {"x": {"field": "cutoff", "type": "quantitative", "scale": {"domain": [-0.131, 1.007], "nice": false, "zero": false}, "axis": {"values": [0, 0.25, 0.5, 0.75, 1], "format": ".2f", "offset": -26, "labelOverlap": false, "title": "Probability cutoff"}},
                      "y": {"field": "value", "type": "quantitative", "scale": {"domain": [-0.302, 1.07], "nice": false, "zero": false}, "axis": {"values": [0, 0.25, 0.5, 0.75, 1], "format": ".2f", "offset": -19, "labelOverlap": false, "title": "Sensitivity/Specificity"}},
                      "color": {"field": "measure", "type": "nominal", "scale": {"domain": ["Sensitivity", "Specificity"], "range": ["#3b3b3b", "#3b3b3b"]}, "legend": {"orient": "none", "legendX": 48, "legendY": 107, "direction": "horizontal", "title": null, "labelFontSize": 4, "labelFont": "Liberation Sans", "labelColor": "#333", "symbolType": "stroke", "symbolStrokeWidth": 1.5, "symbolSize": 70, "fillColor": "white", "strokeColor": "#333", "padding": 1.5, "columnPadding": 10, "labelOffset": 2}}}}
       ]},
      {"width": 176, "height": 118, "view": {"fill": "#ebebeb", "stroke": null},
       "layer": [
        {"data": {"values": [{}]}, "mark": {"type": "rect", "fill": "white"}, "encoding": {"x": {"datum": 0, "type": "quantitative", "scale": {"domain": [-0.131, 1.007], "nice": false, "zero": false}}, "x2": {"datum": 1}, "y": {"datum": 0, "type": "quantitative", "scale": {"domain": [-0.302, 1.07], "nice": false, "zero": false}}, "y2": {"datum": 1}}},
        {"data": {"name": "grid"}, "mark": {"type": "rule", "color": "#e0e0e0", "strokeWidth": 0.6}, "encoding": {"x": {"field": "v", "type": "quantitative", "scale": {"domain": [-0.131, 1.007], "nice": false, "zero": false}}, "y": {"datum": 0, "type": "quantitative", "scale": {"domain": [-0.302, 1.07], "nice": false, "zero": false}}, "y2": {"datum": 1}}},
        {"data": {"name": "grid"}, "mark": {"type": "rule", "color": "#e0e0e0", "strokeWidth": 0.6}, "encoding": {"y": {"field": "v", "type": "quantitative", "scale": {"domain": [-0.302, 1.07], "nice": false, "zero": false}}, "x": {"datum": 0, "type": "quantitative", "scale": {"domain": [-0.131, 1.007], "nice": false, "zero": false}}, "x2": {"datum": 1}}},
        {"data": {"values": [{}]}, "mark": {"type": "rule", "color": "#333", "strokeWidth": 0.7}, "encoding": {"x": {"datum": 0, "type": "quantitative", "scale": {"domain": [-0.131, 1.007], "nice": false, "zero": false}}, "y": {"datum": 0, "type": "quantitative", "scale": {"domain": [-0.302, 1.07], "nice": false, "zero": false}}, "y2": {"datum": 1}}},
        {"data": {"values": [{}]}, "mark": {"type": "rule", "color": "#333", "strokeWidth": 0.7}, "encoding": {"y": {"datum": 0, "type": "quantitative", "scale": {"domain": [-0.302, 1.07], "nice": false, "zero": false}}, "x": {"datum": 0, "type": "quantitative", "scale": {"domain": [-0.131, 1.007], "nice": false, "zero": false}}, "x2": {"datum": 1}}},
        {"data": {"name": "cut"}, "transform": [{"filter": "datum.model === 'Lasso'"}], "mark": {"type": "line", "strokeWidth": 3.5, "strokeJoin": "round", "strokeCap": "round"},
         "encoding": {"x": {"field": "cutoff", "type": "quantitative", "scale": {"domain": [-0.131, 1.007], "nice": false, "zero": false}, "axis": {"values": [0, 0.25, 0.5, 0.75, 1], "format": ".2f", "offset": -26, "labelOverlap": false, "title": "Probability cutoff"}},
                      "y": {"field": "value", "type": "quantitative", "scale": {"domain": [-0.302, 1.07], "nice": false, "zero": false}, "axis": {"values": [0, 0.25, 0.5, 0.75, 1], "format": ".2f", "offset": -20, "labelOverlap": false, "title": "Sensitivity/Specificity"}},
                      "color": {"field": "measure", "type": "nominal", "scale": {"domain": ["Sensitivity", "Specificity"], "range": ["#3b3b3b", "#3b3b3b"]}, "legend": {"orient": "none", "legendX": 54, "legendY": 107, "direction": "horizontal", "title": null, "labelFontSize": 4, "labelFont": "Liberation Sans", "labelColor": "#333", "symbolType": "stroke", "symbolStrokeWidth": 1.5, "symbolSize": 70, "fillColor": "white", "strokeColor": "#333", "padding": 1.5, "columnPadding": 10, "labelOffset": 2}}}}
       ]},
      {"width": 166, "height": 118, "view": {"fill": "#ebebeb", "stroke": null},
       "layer": [
        {"data": {"values": [{}]}, "mark": {"type": "rect", "fill": "white"}, "encoding": {"x": {"datum": 0, "type": "quantitative", "scale": {"domain": [-0.131, 1.007], "nice": false, "zero": false}}, "x2": {"datum": 1}, "y": {"datum": 0, "type": "quantitative", "scale": {"domain": [-0.302, 1.07], "nice": false, "zero": false}}, "y2": {"datum": 1}}},
        {"data": {"name": "grid"}, "mark": {"type": "rule", "color": "#e0e0e0", "strokeWidth": 0.6}, "encoding": {"x": {"field": "v", "type": "quantitative", "scale": {"domain": [-0.131, 1.007], "nice": false, "zero": false}}, "y": {"datum": 0, "type": "quantitative", "scale": {"domain": [-0.302, 1.07], "nice": false, "zero": false}}, "y2": {"datum": 1}}},
        {"data": {"name": "grid"}, "mark": {"type": "rule", "color": "#e0e0e0", "strokeWidth": 0.6}, "encoding": {"y": {"field": "v", "type": "quantitative", "scale": {"domain": [-0.302, 1.07], "nice": false, "zero": false}}, "x": {"datum": 0, "type": "quantitative", "scale": {"domain": [-0.131, 1.007], "nice": false, "zero": false}}, "x2": {"datum": 1}}},
        {"data": {"values": [{}]}, "mark": {"type": "rule", "color": "#333", "strokeWidth": 0.7}, "encoding": {"x": {"datum": 0, "type": "quantitative", "scale": {"domain": [-0.131, 1.007], "nice": false, "zero": false}}, "y": {"datum": 0, "type": "quantitative", "scale": {"domain": [-0.302, 1.07], "nice": false, "zero": false}}, "y2": {"datum": 1}}},
        {"data": {"values": [{}]}, "mark": {"type": "rule", "color": "#333", "strokeWidth": 0.7}, "encoding": {"y": {"datum": 0, "type": "quantitative", "scale": {"domain": [-0.302, 1.07], "nice": false, "zero": false}}, "x": {"datum": 0, "type": "quantitative", "scale": {"domain": [-0.131, 1.007], "nice": false, "zero": false}}, "x2": {"datum": 1}}},
        {"data": {"name": "cut"}, "transform": [{"filter": "datum.model === 'CART (Model 1)'"}], "mark": {"type": "line", "strokeWidth": 3.5, "strokeJoin": "round", "strokeCap": "round"},
         "encoding": {"x": {"field": "cutoff", "type": "quantitative", "scale": {"domain": [-0.131, 1.007], "nice": false, "zero": false}, "axis": {"values": [0, 0.25, 0.5, 0.75, 1], "format": ".2f", "offset": -26, "labelOverlap": false, "title": "Probability cutoff"}},
                      "y": {"field": "value", "type": "quantitative", "scale": {"domain": [-0.302, 1.07], "nice": false, "zero": false}, "axis": {"values": [0, 0.25, 0.5, 0.75, 1], "format": ".2f", "offset": -19, "labelOverlap": false, "title": "Sensitivity/Specificity"}},
                      "color": {"field": "measure", "type": "nominal", "scale": {"domain": ["Sensitivity", "Specificity"], "range": ["#3b3b3b", "#3b3b3b"]}, "legend": {"orient": "none", "legendX": 48, "legendY": 107, "direction": "horizontal", "title": null, "labelFontSize": 4, "labelFont": "Liberation Sans", "labelColor": "#333", "symbolType": "stroke", "symbolStrokeWidth": 1.5, "symbolSize": 70, "fillColor": "white", "strokeColor": "#333", "padding": 1.5, "columnPadding": 10, "labelOffset": 2}}}}
       ]},
      {"width": 164, "height": 118, "view": {"fill": "#ebebeb", "stroke": null},
       "layer": [
        {"data": {"values": [{}]}, "mark": {"type": "rect", "fill": "white"}, "encoding": {"x": {"datum": 0, "type": "quantitative", "scale": {"domain": [-0.131, 1.007], "nice": false, "zero": false}}, "x2": {"datum": 1}, "y": {"datum": 0, "type": "quantitative", "scale": {"domain": [-0.302, 1.07], "nice": false, "zero": false}}, "y2": {"datum": 1}}},
        {"data": {"name": "grid"}, "mark": {"type": "rule", "color": "#e0e0e0", "strokeWidth": 0.6}, "encoding": {"x": {"field": "v", "type": "quantitative", "scale": {"domain": [-0.131, 1.007], "nice": false, "zero": false}}, "y": {"datum": 0, "type": "quantitative", "scale": {"domain": [-0.302, 1.07], "nice": false, "zero": false}}, "y2": {"datum": 1}}},
        {"data": {"name": "grid"}, "mark": {"type": "rule", "color": "#e0e0e0", "strokeWidth": 0.6}, "encoding": {"y": {"field": "v", "type": "quantitative", "scale": {"domain": [-0.302, 1.07], "nice": false, "zero": false}}, "x": {"datum": 0, "type": "quantitative", "scale": {"domain": [-0.131, 1.007], "nice": false, "zero": false}}, "x2": {"datum": 1}}},
        {"data": {"values": [{}]}, "mark": {"type": "rule", "color": "#333", "strokeWidth": 0.7}, "encoding": {"x": {"datum": 0, "type": "quantitative", "scale": {"domain": [-0.131, 1.007], "nice": false, "zero": false}}, "y": {"datum": 0, "type": "quantitative", "scale": {"domain": [-0.302, 1.07], "nice": false, "zero": false}}, "y2": {"datum": 1}}},
        {"data": {"values": [{}]}, "mark": {"type": "rule", "color": "#333", "strokeWidth": 0.7}, "encoding": {"y": {"datum": 0, "type": "quantitative", "scale": {"domain": [-0.302, 1.07], "nice": false, "zero": false}}, "x": {"datum": 0, "type": "quantitative", "scale": {"domain": [-0.131, 1.007], "nice": false, "zero": false}}, "x2": {"datum": 1}}},
        {"data": {"name": "cut"}, "transform": [{"filter": "datum.model === 'CART (Model 2)'"}], "mark": {"type": "line", "strokeWidth": 3.5, "strokeJoin": "round", "strokeCap": "round"},
         "encoding": {"x": {"field": "cutoff", "type": "quantitative", "scale": {"domain": [-0.131, 1.007], "nice": false, "zero": false}, "axis": {"values": [0, 0.25, 0.5, 0.75, 1], "format": ".2f", "offset": -26, "labelOverlap": false, "title": "Probability cutoff"}},
                      "y": {"field": "value", "type": "quantitative", "scale": {"domain": [-0.302, 1.07], "nice": false, "zero": false}, "axis": {"values": [0, 0.25, 0.5, 0.75, 1], "format": ".2f", "offset": -19, "labelOverlap": false, "title": "Sensitivity/Specificity"}},
                      "color": {"field": "measure", "type": "nominal", "scale": {"domain": ["Sensitivity", "Specificity"], "range": ["#3b3b3b", "#3b3b3b"]}, "legend": {"orient": "none", "legendX": 47, "legendY": 107, "direction": "horizontal", "title": null, "labelFontSize": 4, "labelFont": "Liberation Sans", "labelColor": "#333", "symbolType": "stroke", "symbolStrokeWidth": 1.5, "symbolSize": 70, "fillColor": "white", "strokeColor": "#333", "padding": 1.5, "columnPadding": 10, "labelOffset": 2}}}}
       ]}
    ]
  }
]
}
